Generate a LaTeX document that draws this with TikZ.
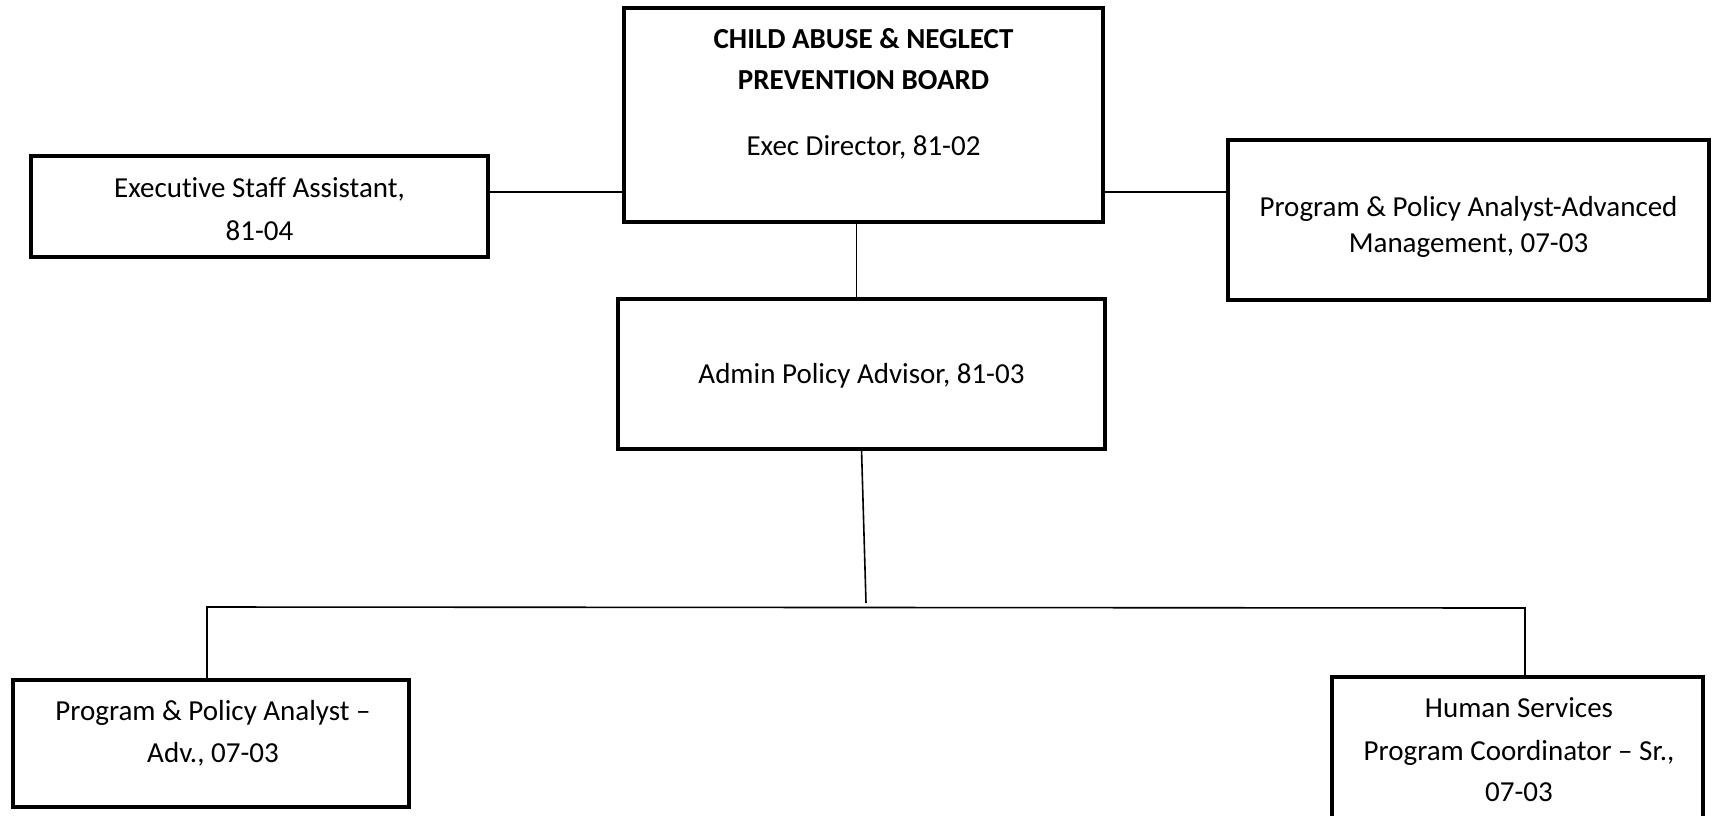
\documentclass[tikz,border=0pt]{standalone}
\usepackage{fontspec}
\setmainfont{Carlito}[Ligatures=NoCommon]
\begin{document}
\begin{tikzpicture}[x=1pt,y=-1pt,
  box/.style={draw=black,line width=3.6pt,fill=white,inner sep=0pt,outer sep=0pt},
  conn/.style={draw=black,line width=1.6pt},
  txt/.style={anchor=base,inner sep=0pt,font=\fontsize{29}{35}\selectfont},
  btxt/.style={txt,font=\fontsize{29}{35}\selectfont\bfseries}]
\clip (0,0) rectangle (1716,815);
\fill[white] (0,0) rectangle (1716,815);
% boxes
\node[box,minimum width=479pt,minimum height=214pt] (top) at (863.5,115) {};
\node[box,minimum width=457pt,minimum height=101pt] (es) at (259.5,206.5) {};
\node[box,minimum width=481pt,minimum height=160pt] (rp) at (1468.5,220) {};
\node[box,minimum width=487pt,minimum height=150pt] (admin) at (861.5,374) {};
\node[box,minimum width=396pt,minimum height=127pt] (ppa) at (211,743.5) {};
\node[box,minimum width=371pt,minimum height=150pt] (hs) at (1517.5,752) {};
% texts
\node[btxt] (t1) at (863.5,48) {CHILD ABUSE \& NEGLECT};
\node[btxt] (t2) at (863.5,89) {PREVENTION BOARD};
\node[txt] (t3) at (863.5,155) {Exec Director, 81-02};
\node[txt] (t4) at (259.5,197) {Executive Staff Assistant,};
\node[txt] (t5) at (259.5,240) {81-04};
\node[txt] (t6) at (1468.5,216) {Program \& Policy Analyst-Advanced};
\node[txt] (t7) at (1468.5,252) {Management, 07-03};
\node[txt] (t8) at (861.5,383) {Admin Policy Advisor, 81-03};
\node[txt] (t9) at (213,720) {Program \& Policy Analyst --};
\node[txt] (t10) at (213,762) {Adv., 07-03};
\node[txt] (t11) at (1519,717) {Human Services};
\node[txt] (t12) at (1519,760) {Program Coordinator -- Sr.,};
\node[txt] (t13) at (1519,801) {07-03};
% connectors
\coordinate (ly) at (0,192);
\coordinate (bus) at (866,603);
\coordinate (busL) at (207,607);
\coordinate (busR) at (1525,608);
\draw[conn] (es.east |- ly) -- (top.west |- ly);
\draw[conn] (top.east |- ly) -- (rp.west |- ly);
\draw[conn] ([xshift=-7pt]top.south) -- ([xshift=-5pt]admin.north);
\draw[conn] (admin.south) -- (bus);
\draw[conn] (ppa.north -| busL) -- (busL) -- (busR) -- (hs.north -| busR);
\end{tikzpicture}
\end{document}
